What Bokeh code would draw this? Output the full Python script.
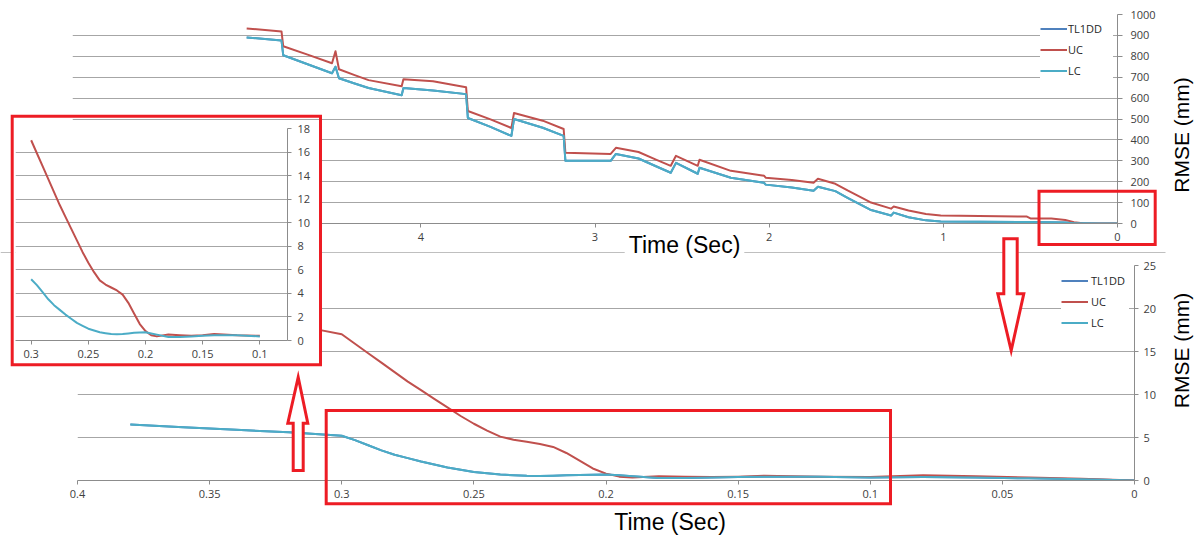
import math
from bokeh.plotting import figure
from bokeh.models import Range1d, FixedTicker, Label, NumeralTickFormatter
from bokeh.embed import file_html
from bokeh.resources import INLINE

# ---------------- data ----------------
series_names = ["TL1DD", "UC", "LC"]
series_colors = ["#4F81BD", "#C0504D", "#4BACC6"]

# full run (top panel), time in seconds, RMSE in mm
top_time = [5.00, 4.80, 4.79, 4.65, 4.51, 4.49, 4.47, 4.38, 4.30, 4.11, 4.10, 3.93, 3.74, 3.73,
            3.60, 3.48, 3.465, 3.30, 3.18, 3.17, 2.91, 2.88, 2.75, 2.65, 2.565, 2.535, 2.41, 2.40,
            2.22, 2.03, 2.02, 1.87, 1.745, 1.72, 1.62, 1.55, 1.42, 1.30, 1.285, 1.20, 1.10, 1.015,
            0.52, 0.50, 0.38, 0.30, 0.25, 0.20, 0.10, 0.0]
top_uc = [933, 919, 848, 808, 767, 824, 738, 710, 686, 657, 690, 681, 652, 538,
          498, 457, 529, 492, 452, 338, 333, 362, 342, 306, 276, 324, 276, 305,
          252, 229, 219, 208, 195, 214, 190, 158, 102, 71, 81, 62, 45, 38,
          33, 24, 24, 17, 6.6, 0.8, 0.4, 0]
top_lc = [890, 876, 805, 762, 719, 750, 695, 670, 648, 614, 648, 636, 619, 505,
          462, 419, 500, 458, 419, 300, 300, 333, 311, 274, 243, 290, 238, 267,
          219, 195, 186, 172, 157, 176, 155, 123, 66, 38, 52, 30, 15, 10,
          7, 7, 6.5, 5.2, 1.1, 0.7, 0.4, 0]
# TL1DD is never visible: it lies underneath the LC trace
tl1dd_time = top_time
tl1dd_rmse = top_lc

# last 0.4 s (bottom panel and inset)
zoom_time = [0.38, 0.36, 0.34, 0.32, 0.31, 0.30, 0.295, 0.29, 0.285, 0.28, 0.275, 0.27, 0.265,
             0.26, 0.255, 0.25, 0.245, 0.24, 0.235, 0.23, 0.225, 0.22, 0.215, 0.21, 0.205, 0.20,
             0.195, 0.19, 0.18, 0.17, 0.16, 0.15, 0.14, 0.12, 0.10, 0.08, 0.06, 0.04, 0.02, 0.0]
zoom_uc = [24.0, 22.3, 20.5, 18.5, 17.6, 17.0, 15.9, 14.8, 13.7, 12.6, 11.5, 10.5, 9.5,
           8.5, 7.5, 6.6, 5.8, 5.1, 4.75, 4.5, 4.25, 3.9, 3.2, 2.3, 1.4, 0.8,
           0.45, 0.35, 0.5, 0.45, 0.4, 0.45, 0.55, 0.45, 0.4, 0.6, 0.5, 0.35, 0.2, 0.0]
zoom_lc = [6.5, 6.2, 5.9, 5.6, 5.4, 5.2, 4.7, 4.1, 3.5, 3.0, 2.6, 2.2, 1.85,
           1.5, 1.25, 1.0, 0.85, 0.7, 0.62, 0.55, 0.53, 0.55, 0.6, 0.65, 0.68, 0.7,
           0.6, 0.5, 0.3, 0.3, 0.35, 0.4, 0.45, 0.45, 0.35, 0.4, 0.35, 0.25, 0.15, 0.0]
zoom_tl1dd = zoom_lc

top_x_ticks = [0, 1, 2, 3, 4]
top_y_ticks = [0, 100, 200, 300, 400, 500, 600, 700, 800, 900, 1000]
bottom_x_ticks = [0, 0.05, 0.1, 0.15, 0.2, 0.25, 0.3, 0.35, 0.4]
bottom_x_labels = ["0", "0.05", "0.1", "0.15", "0.2", "0.25", "0.3", "0.35", "0.4"]
bottom_y_ticks = [0, 5, 10, 15, 20, 25]
inset_x_ticks = [0.1, 0.15, 0.2, 0.25, 0.3]
inset_x_labels = ["0.1", "0.15", "0.2", "0.25", "0.3"]
inset_y_ticks = [0, 2, 4, 6, 8, 10, 12, 14, 16, 18]
x_title = "Time (Sec)"
y_title = "RMSE (mm)"

# ---------------- styling ----------------
GRID = "#a6a6a6"
AXIS = "#8c8c8c"
TICK_FONT = "Open Sans"
TITLE_FONT = "Liberation Sans"
RED = "#ed1c24"


def place(left, top):
    return {"position": "absolute", "left": f"{left}px", "top": f"{top}px"}


def style_axis(ax, tick_out=4, standoff=5):
    ax.axis_line_color = AXIS
    ax.major_tick_line_color = AXIS
    ax.minor_tick_line_color = None
    ax.major_tick_in = 0
    ax.major_tick_out = tick_out
    ax.major_label_standoff = standoff
    ax.major_label_text_font = TICK_FONT
    ax.major_label_text_font_size = "11px"
    ax.major_label_text_color = "#404040"


def chart(x_range, y_range, x_ticks, y_ticks, left, top, fw, fh, mbl, mbt,
          mbr=5, mbb=5, alpha=0.0, y_standoff=5, y_tick_out=4):
    p = figure(frame_width=fw, frame_height=fh, x_range=x_range, y_range=y_range,
               y_axis_location="right", toolbar_location=None, output_backend="svg",
               min_border_left=mbl, min_border_top=mbt, min_border_right=mbr,
               min_border_bottom=mbb, outline_line_color=None,
               background_fill_color="white", border_fill_color="white",
               background_fill_alpha=alpha, border_fill_alpha=alpha,
               styles=place(left, top))
    p.xaxis.ticker = FixedTicker(ticks=x_ticks)
    p.yaxis.ticker = FixedTicker(ticks=y_ticks)
    p.xgrid.visible = False
    p.ygrid.ticker = FixedTicker(ticks=y_ticks)
    p.ygrid.grid_line_color = GRID
    p.ygrid.grid_line_width = 1
    style_axis(p.xaxis[0], 4, 5)
    style_axis(p.yaxis[0], y_tick_out, y_standoff)
    return p


def add_lines(p, t, tl, uc, lc, with_legend):
    kw = [dict(legend_label=n) if with_legend else {} for n in series_names]
    if with_legend:
        p.line(t, tl, line_color=series_colors[0], line_width=2, line_join="round", **kw[0])
    p.line(t, uc, line_color=series_colors[1], line_width=2, line_join="round", **kw[1])
    p.line(t, lc, line_color=series_colors[2], line_width=2, line_join="round", **kw[2])


def style_legend(p, margin, label_width, standoff):
    lg = p.legend[0]
    lg.location = "top_right"
    lg.margin = margin
    lg.padding = 0
    lg.spacing = 0
    lg.glyph_width = 27
    lg.glyph_height = 21
    lg.label_height = 21
    lg.label_width = label_width
    lg.label_standoff = standoff
    lg.label_text_font = TICK_FONT
    lg.label_text_font_size = "11px"
    lg.label_text_color = "#262626"
    lg.border_line_color = None
    lg.background_fill_color = "white"
    lg.background_fill_alpha = 1


def page_layer(alpha):
    f = figure(width=1194, height=536, x_range=Range1d(0, 1194), y_range=Range1d(536, 0),
               x_axis_location=None, y_axis_location=None, toolbar_location=None,
               output_backend="svg", min_border=0, outline_line_color=None,
               background_fill_color="white", border_fill_color="white",
               background_fill_alpha=alpha, border_fill_alpha=alpha, styles=place(0, 0))
    f.grid.visible = False
    return f


# ---------------- background layer ----------------
bg = page_layer(1.0)
bg.segment(x0=[0], y0=[252], x1=[1165], y1=[252], line_color="#bfbfbf", line_width=1)
for (lx, ly) in [(684, 244), (669.5, 521)]:
    bg.add_layout(Label(x=lx, y=ly, text=x_title, text_font=TITLE_FONT, text_font_size="23px",
                        text_color="black", text_align="center", text_baseline="middle",
                        background_fill_color="white", padding=4))
for (lx, ly) in [(1181, 134.5), (1181, 350)]:
    bg.add_layout(Label(x=lx, y=ly, text=y_title, angle=math.pi / 2, text_font=TITLE_FONT,
                        text_font_size="21px", text_color="black", text_align="center",
                        text_baseline="middle"))

# ---------------- top chart (full run) ----------------
top_fig = chart(Range1d(6, 0), Range1d(0, 1000), top_x_ticks, top_y_ticks,
                8, 8, 1045, 209, 64, 6, y_standoff=8, y_tick_out=5)
add_lines(top_fig, top_time, tl1dd_rmse, top_uc, top_lc, True)
style_legend(top_fig, 4, 45, 1)

# ---------------- bottom chart (last 0.4 s) ----------------
bot_fig = chart(Range1d(0.4, 0), Range1d(0, 25), bottom_x_ticks, bottom_y_ticks,
                8, 255, 1057, 215, 69, 10, y_standoff=5, y_tick_out=4)
bot_fig.xaxis[0].formatter = NumeralTickFormatter(format="0.[00]")
bot_fig.xaxis[0].major_label_overrides = dict(zip(bottom_x_ticks, bottom_x_labels))
add_lines(bot_fig, zoom_time, zoom_tl1dd, zoom_uc, zoom_lc, True)
style_legend(bot_fig, 5, 38, 3)

# ---------------- inset (0.3 s .. 0.1 s) ----------------
inset_idx = [i for i, t in enumerate(zoom_time) if 0.1 <= t <= 0.3]
inset_time = [zoom_time[i] for i in inset_idx]
inset_uc = [zoom_uc[i] for i in inset_idx]
inset_lc = [zoom_lc[i] for i in inset_idx]

inset = chart(Range1d(0.3137, 0.0758), Range1d(0, 18), inset_x_ticks, inset_y_ticks,
              12, 120, 272, 212, 3, 8, mbr=32, mbb=23, alpha=1.0, y_standoff=6, y_tick_out=4)
inset.xaxis[0].formatter = NumeralTickFormatter(format="0.[00]")
inset.xaxis[0].major_label_overrides = dict(zip(inset_x_ticks, inset_x_labels))
add_lines(inset, inset_time, inset_lc, inset_uc, inset_lc, False)

# ---------------- red callouts on top ----------------
ov = page_layer(0.0)
ov.quad(left=[11.7, 1038.5, 325.7], right=[320, 1154.7, 890],
        top=[115.7, 190.8, 410], bottom=[364.3, 244, 503.3],
        fill_alpha=0, line_color=RED, line_width=3, line_join="miter")
ov.patches(xs=[[297.7, 307.3, 302.7, 302.7, 292.7, 292.7, 287.3],
               [1003.3, 1016.7, 1016.7, 1023.3, 1010.7, 997.3, 1003.3]],
           ys=[[376.7, 422.7, 422.7, 470, 470, 422.7, 422.7],
               [238.3, 238.3, 293.3, 293.3, 350, 293.3, 293.3]],
           fill_color="white", line_color=RED, line_width=3, line_join="miter")

open("out.html", "w").write(file_html([bg, top_fig, bot_fig, inset, ov], INLINE, title="RMSE"))
